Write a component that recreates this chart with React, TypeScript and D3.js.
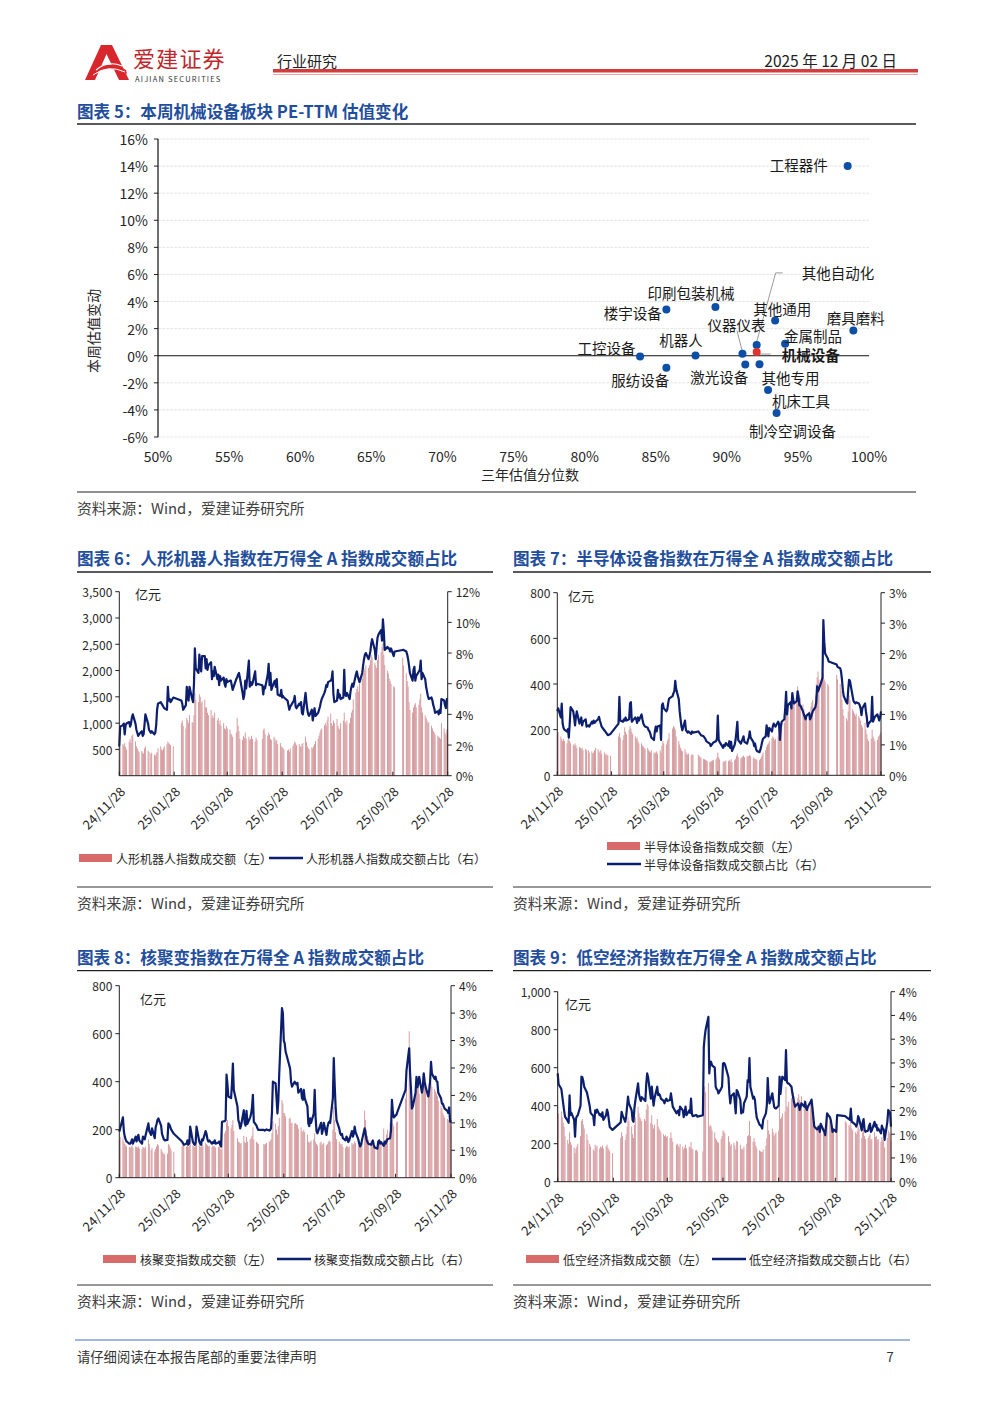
import React from 'react';
import * as d3 from 'd3';

const FONT = '"Noto Sans CJK SC", "Noto Sans", sans-serif';
const BLUE = '#1f4e9d';
const NAVY = '#0c1f6e';
const BAR = '#d39498';
const BAR_KEY = '#d96a6a';
const TEXT = '#262626';

// ---- 图表5 scatter ----
const sectors = ['工程器件', '其他自动化', '仪器仪表', '机械设备', '其他通用', '磨具磨料', '金属制品', '印刷包装机械',
  '楼宇设备', '机器人', '工控设备', '服纺设备', '激光设备', '其他专用', '机床工具', '制冷空调设备'];
const pctRank = [98.5, 92.1, 91.1, 92.1, 93.4, 98.9, 94.1, 89.2, 85.75, 87.8, 83.9, 85.75, 91.3, 92.3, 92.9, 93.5];
const weekChg = [14.0, 0.8, 0.15, 0.27, 2.6, 1.87, 0.89, 3.6, 3.42, 0.02, -0.05, -0.89, -0.64, -0.62, -2.53, -4.23];
const scatterXTicks = [50, 55, 60, 65, 70, 75, 80, 85, 90, 95, 100];
const scatterYTicks = [-6, -4, -2, 0, 2, 4, 6, 8, 10, 12, 14, 16];

// label placement (layout only)
const labelPos: Record<string, { dx: number; dy: number; anchor: string; bold?: boolean; leader?: [number, number][] }> = {
  '工程器件': { dx: -20, dy: -2, anchor: 'end' },
  '其他自动化': { dx: 45, dy: -72, anchor: 'start', leader: [[26, -72], [19, -72], [0, -3]] },
  '仪器仪表': { dx: -6, dy: -29, anchor: 'middle', leader: [[-5.5, -23], [-0.3, -3]] },
  '机械设备': { dx: 25, dy: 2, anchor: 'start', bold: true, leader: [[3, 2], [14, 2]] },
  '其他通用': { dx: 7, dy: -12, anchor: 'middle' },
  '磨具磨料': { dx: 2.5, dy: -12.5, anchor: 'middle' },
  '金属制品': { dx: 28, dy: -8, anchor: 'middle' },
  '印刷包装机械': { dx: -24.5, dy: -14, anchor: 'middle' },
  '楼宇设备': { dx: -4.5, dy: 3, anchor: 'end' },
  '机器人': { dx: -14.5, dy: -15.5, anchor: 'middle' },
  '工控设备': { dx: -4.5, dy: -9, anchor: 'end' },
  '服纺设备': { dx: -26, dy: 12, anchor: 'middle' },
  '激光设备': { dx: -26, dy: 12, anchor: 'middle' },
  '其他专用': { dx: 31, dy: 13.5, anchor: 'middle' },
  '机床工具': { dx: 33, dy: 11, anchor: 'middle' },
  '制冷空调设备': { dx: 16, dy: 17, anchor: 'middle' },
};

// ---- time axis for 图表6-9 ----
const dateTicks = ['24/11/28', '25/01/28', '25/03/28', '25/05/28', '25/07/28', '25/09/28', '25/11/28'];
const holidays = ['2025-01-01', '2025-01-28', '2025-01-29', '2025-01-30', '2025-01-31', '2025-02-03', '2025-02-04',
  '2025-04-04', '2025-05-01', '2025-05-02', '2025-05-05', '2025-06-02',
  '2025-10-01', '2025-10-02', '2025-10-03', '2025-10-06', '2025-10-07', '2025-10-08'];

// 人形机器人 (亿元 / %)
const robotAmt = [
  300, 550,
  600, 580, 620, 550, 500, 650, 700, 620, 760, 780, 650, 560, 520, 480, 450, 470, 440, 420, 520, 560, 480, 450,
  420, 440, 400, 380, 420, 450, 520, 560, 500, 480, 520, 560, 600, 650, 620, 600, 580, 560,
  1000, 1050, 950, 900, 1100, 1050, 1000, 1150, 1020, 1000, 1150, 1580, 1450, 1400, 1550, 1500, 1380, 1420,
  1450, 1300, 1300, 1200, 1150, 1250, 1100, 1150, 1100, 1200, 1050, 1100, 980, 1050, 950, 1000, 900, 880, 950, 900, 880,
  800, 780, 740, 820, 1100, 950, 850, 700, 680, 760, 720, 820, 700, 740, 680, 700, 760, 700, 650, 720, 680,
  700, 870, 900, 800, 760, 820, 780, 700, 680, 740, 700, 650, 680, 600, 620, 560, 540, 520, 500,
  480, 500, 460, 520, 560, 600, 650, 620, 580, 600, 560, 540, 600, 620, 740, 640, 560, 520, 500, 540,
  520, 560, 600, 660, 700, 760, 820, 870, 900, 960, 1000, 950, 1050, 1120, 1180, 1000, 950, 1050, 1000, 1080, 950, 900, 880,
  1000, 1050, 1200, 1020, 980, 1050, 1000, 1100, 1200, 1250, 1450, 1580, 1650, 1700, 1600, 1750, 1850, 1950, 2050, 2000, 2100,
  2050, 2100, 2200, 2300, 2250, 2150, 2100, 2050, 2200, 2300, 2350, 2450, 2520, 2300, 2100, 2000, 1950, 1850, 1800, 1750, 1700, 1680,
  2250, 2100, 1950, 1800, 1700, 1400, 1250, 1200, 1300, 1350, 1380, 1300, 1350, 1450, 1560, 1300, 1200,
  1150, 1100, 1050, 1000, 1020, 950, 900, 850, 820, 780, 760, 740, 720, 700, 1000, 900, 820, 780, 880, 860,
];
const robotPct = [
  1.9, 3.2,
  3.3, 3.4, 2.7, 3.3, 3.4, 3.5, 3.2, 3.4, 3.8, 4.0, 3.4, 3.0, 2.8, 2.6, 2.7, 2.9, 2.6, 2.7, 3.3, 4.0, 3.4, 3.0,
  2.8, 2.9, 2.7, 2.8, 3.3, 4.3, 4.7, 4.8, 4.7, 4.6, 4.5, 4.4, 4.3, 5.8, 4.9, 5.0, 4.8, 5.1,
  4.9, 4.7, 4.3, 4.6, 5.8, 5.1, 4.9, 5.8, 5.0, 4.8, 6.0, 8.3, 7.0, 6.7, 7.9, 7.2, 6.8, 7.8,
  7.8, 7.0, 7.6, 6.9, 7.2, 7.4, 6.3, 6.8, 6.5, 7.1, 6.3, 6.6, 5.9, 6.5, 6.2, 6.4, 6.0, 5.8, 6.3, 6.1, 6.2,
  6.2, 5.9, 5.6, 6.3, 6.4, 6.6, 6.7, 6.4, 5.4, 5.0, 5.3, 6.2, 5.7, 7.5, 5.8, 6.1, 5.9, 6.0, 6.8, 5.9, 6.0,
  5.9, 5.3, 5.8, 5.7, 6.6, 7.3, 5.9, 6.7, 5.6, 6.1, 6.2, 5.8, 6.3, 5.3, 5.2, 5.6, 5.1, 5.2, 5.1,
  4.9, 4.6, 4.3, 4.5, 4.8, 4.9, 5.2, 4.5, 4.4, 4.7, 4.6, 4.8, 4.1, 4.0, 5.4, 4.8, 4.3, 4.0, 3.9, 4.3,
  3.6, 4.0, 4.4, 3.9, 4.1, 4.3, 4.5, 4.8, 5.0, 5.4, 5.6, 5.9, 5.8, 6.1, 6.2, 6.3, 6.8, 5.3, 4.8, 4.9, 5.6, 5.1, 5.3,
  5.0, 5.1, 6.9, 5.3, 5.2, 5.4, 5.0, 5.5, 5.8, 6.0, 5.8, 6.6, 6.8, 6.5, 6.3, 6.1, 6.7, 7.2, 7.6, 7.9, 8.0,
  7.6, 7.8, 8.1, 8.6, 8.9, 8.2, 7.6, 8.4, 9.0, 9.2, 9.5, 8.8, 10.2, 9.4, 8.2, 8.4, 8.3, 8.3, 8.1, 8.3, 7.8, 8.1,
  8.2, 8.2, 8.1, 7.9, 7.6, 7.2, 6.7, 6.2, 6.9, 7.1, 6.2, 6.5, 6.8, 6.9, 7.5, 6.3, 6.7,
  6.3, 5.8, 5.5, 5.2, 5.0, 5.1, 4.9, 4.6, 4.4, 4.1, 4.2, 4.0, 4.3, 4.1, 5.0, 4.9, 4.6, 4.4, 5.0, 5.0,
];

// 半导体设备
const semiAmt = [
  184, 190,
  170, 160, 150, 160, 150, 140, 155, 160, 150, 140, 135, 130, 140, 130, 120, 125, 120, 115, 120, 110, 115, 110,
  110, 100, 105, 95, 100, 110, 120, 115, 105, 100, 110, 95, 100, 90, 95, 85, 90, 85,
  170, 185, 165, 155, 175, 210, 190, 180, 200, 215, 205, 190, 180, 170, 160, 165, 150, 140,
  140, 130, 125, 120, 115, 120, 110, 105, 100, 110, 100, 95, 100, 105, 95, 110, 100, 130, 150, 140, 135,
  150, 160, 185, 205, 215, 210, 200, 170, 150, 135, 120, 110, 105, 115, 100, 95, 90, 95, 88, 92, 90,
  90, 85, 80, 78, 72, 70, 68, 65, 62, 60, 58, 62, 65, 68, 70, 78, 100, 80, 70,
  58, 62, 60, 65, 62, 68, 60, 70, 58, 66, 72, 85, 95, 80, 75, 78, 82, 86, 80, 84,
  82, 85, 90, 84, 78, 74, 72, 70, 68, 66, 72, 80, 90, 100, 110, 125, 135, 140, 150, 160, 170, 165, 155,
  160, 170, 180, 165, 190, 210, 230, 260, 300, 270, 290, 310, 300, 340, 330, 320, 350, 390, 360, 330, 340,
  310, 290, 270, 250, 260, 280, 270, 300, 320, 330, 350, 400, 430, 455, 420, 410, 430, 447, 420, 410, 400, 390,
  440, 420, 400, 370, 330, 290, 260, 250, 240, 280, 350, 330, 290, 280, 270, 260, 270,
  260, 250, 240, 220, 210, 230, 200, 180, 160, 150, 160, 200, 170, 160, 150, 155, 170, 175, 180, 190,
];
const semiPct = [
  1.05, 1.1,
  0.95, 1.18, 0.85, 0.78, 0.75, 0.72, 0.76, 0.62, 0.85, 1.12, 1.05, 0.95, 0.82, 0.96, 1.05, 0.85, 0.90, 0.95, 0.82, 0.88, 0.92, 0.80,
  0.82, 0.80, 0.88, 0.85, 0.90, 0.86, 0.88, 0.92, 0.96, 0.90, 0.85, 0.80, 0.74, 0.72, 0.70, 0.68, 0.66, 0.68,
  0.85, 1.29, 0.90, 0.88, 0.92, 0.90, 0.95, 0.90, 0.92, 1.18, 1.20, 0.88, 0.90, 0.95, 0.92, 0.86, 0.95, 0.90,
  1.00, 0.92, 0.85, 0.82, 0.80, 0.78, 0.74, 0.72, 0.68, 0.62, 0.58, 0.72, 0.80, 0.72, 0.80, 0.82, 0.58, 1.15, 1.18, 1.10, 1.05,
  1.08, 1.18, 1.26, 1.30, 1.35, 1.38, 1.55, 1.42, 1.25, 1.05, 0.92, 0.80, 0.74, 0.90, 0.75, 0.72, 0.70, 0.72, 0.68, 0.72, 0.70,
  0.72, 0.70, 0.68, 0.66, 0.64, 0.62, 0.60, 0.56, 0.55, 0.52, 0.48, 0.50, 0.52, 0.54, 0.56, 0.60, 0.98, 0.58, 0.55,
  0.45, 0.50, 0.48, 0.53, 0.48, 0.56, 0.45, 0.55, 0.40, 0.50, 0.58, 0.72, 0.88, 0.58, 0.52, 0.56, 0.60, 0.64, 0.55, 0.52,
  0.58, 0.62, 0.72, 0.62, 0.55, 0.48, 0.52, 0.44, 0.40, 0.38, 0.42, 0.48, 0.55, 0.60, 0.64, 0.82, 0.72, 0.64, 0.78, 0.72, 0.80, 0.85, 0.82,
  0.80, 0.88, 0.85, 0.58, 0.78, 0.88, 0.92, 1.10, 1.37, 1.00, 1.15, 1.20, 1.10, 1.35, 1.25, 1.18, 1.22, 1.38, 1.30, 1.15, 1.15,
  1.05, 1.00, 0.96, 0.92, 0.98, 1.02, 0.92, 0.95, 1.00, 1.05, 1.12, 1.20, 1.46, 1.38, 1.42, 1.55, 1.60, 2.55, 2.20, 2.00, 1.92, 1.87,
  1.82, 1.78, 1.76, 1.70, 1.57, 1.40, 1.30, 1.20, 1.18, 1.40, 1.57, 1.55, 1.30, 1.22, 1.20, 1.18, 1.20,
  1.18, 1.15, 1.10, 0.99, 1.10, 1.18, 1.05, 0.95, 0.80, 0.85, 0.90, 1.29, 0.88, 0.92, 0.96, 1.00, 0.95, 0.90, 0.95, 1.05,
];

// 核聚变
const fusionAmt = [
  157, 170,
  165, 150, 140, 135, 130, 128, 125, 130, 135, 125, 130, 128, 125, 130, 122, 118, 128, 125, 122, 130, 160, 140,
  115, 125, 110, 120, 130, 140, 135, 120, 110, 105, 100, 98, 100, 140, 135, 125, 115, 108,
  130, 135, 140, 130, 138, 128, 132, 160, 135, 130, 128, 135, 165, 138, 130, 128, 140, 135,
  145, 140, 135, 130, 132, 128, 135, 130, 132, 125, 128, 130, 122, 115, 180, 185, 195, 230, 240, 215, 205,
  220, 240, 195, 165, 150, 148, 140, 145, 175, 150, 145, 170, 150, 160, 165, 175, 210, 160, 150, 145, 140,
  140, 138, 142, 145, 150, 155, 160, 185, 235, 225, 200, 180, 215, 250, 324, 310, 270, 268, 255,
  245, 250, 225, 230, 225, 228, 222, 220, 205, 210, 195, 190, 200, 190, 180, 150, 145, 150, 155, 160,
  185, 150, 140, 135, 145, 150, 135, 140, 145, 135, 140, 150, 155, 150, 200, 296, 240, 190, 160, 150, 142, 138, 140,
  128, 125, 132, 130, 125, 130, 145, 138, 140, 152, 145, 135, 130, 128, 135, 150, 280, 240, 200, 175, 160,
  155, 150, 145, 140, 135, 132, 140, 138, 145, 140, 205, 150, 160, 180, 200, 230, 220, 240, 225, 215, 230, 235,
  330, 390, 610, 420, 350, 280, 290, 400, 370, 380, 420, 350, 380, 430, 400, 420, 380,
  360, 390, 410, 395, 380, 370, 360, 350, 340, 320, 300, 290, 270, 260, 250, 245, 240, 235, 230, 215,
];
const fusionPct = [
  0.84, 0.90,
  1.10, 0.85, 0.75, 0.70, 0.66, 0.62, 0.62, 0.65, 0.70, 0.62, 0.75, 0.66, 0.72, 0.78, 0.68, 0.62, 0.75, 0.72, 0.70, 0.78, 0.99, 0.85,
  0.78, 0.90, 0.72, 0.92, 0.98, 1.05, 1.08, 0.95, 0.80, 0.75, 0.70, 0.68, 0.69, 0.99, 0.97, 0.93, 0.88, 0.80,
  0.66, 0.63, 0.60, 0.62, 0.68, 0.60, 0.63, 0.93, 0.65, 0.62, 0.60, 0.64, 0.93, 0.66, 0.62, 0.60, 0.70, 0.68,
  0.85, 0.80, 0.70, 0.66, 0.68, 0.62, 0.65, 0.63, 0.68, 0.62, 0.64, 0.66, 0.60, 0.57, 1.02, 1.03, 1.05, 1.88, 1.70, 1.48, 1.45,
  1.72, 2.08, 1.60, 1.30, 1.05, 1.00, 0.90, 0.95, 1.23, 1.00, 0.95, 1.22, 0.98, 1.10, 1.16, 1.28, 1.51, 1.02, 0.95, 0.90, 0.87,
  0.87, 0.86, 0.87, 0.88, 0.86, 0.87, 0.90, 1.20, 1.75, 1.72, 1.45, 1.17, 1.40, 1.90, 3.09, 3.00, 2.50, 2.45, 2.30,
  2.05, 1.98, 1.75, 1.66, 1.75, 1.72, 1.70, 1.73, 1.55, 1.62, 1.45, 1.42, 1.60, 1.45, 1.30, 0.99, 0.94, 1.08, 1.00, 1.17,
  1.60, 1.10, 0.85, 0.81, 0.95, 1.00, 0.80, 0.87, 1.00, 0.78, 0.92, 0.99, 1.02, 1.00, 1.45, 2.18, 1.70, 1.30, 1.05, 0.90, 0.81, 0.78, 0.80,
  0.72, 0.68, 0.75, 0.72, 0.65, 0.68, 0.85, 0.75, 0.80, 0.93, 0.83, 0.70, 0.62, 0.57, 0.60, 0.68, 0.90, 0.80, 0.70, 0.65, 0.62,
  0.60, 0.64, 0.68, 0.60, 0.55, 0.53, 0.66, 0.68, 0.62, 0.65, 0.58, 0.66, 0.62, 0.66, 0.70, 0.72, 0.87, 1.42, 1.20, 1.10, 1.15, 1.20,
  1.60, 1.95, 2.36, 1.90, 1.60, 1.26, 1.30, 1.55, 1.84, 1.65, 1.72, 1.84, 1.55, 1.65, 1.90, 1.75, 1.66,
  1.48, 1.60, 1.75, 2.11, 1.90, 1.80, 1.84, 1.76, 1.75, 1.55, 1.45, 1.35, 1.35, 1.30, 1.26, 1.22, 1.18, 1.28, 1.02, 1.05,
];

// 低空经济
const lowAltAmt = [
  395, 360,
  370, 340, 310, 290, 240, 220, 200, 260, 210, 195, 180, 150, 175, 185, 200, 240, 320, 330, 300, 280, 250, 220,
  200, 185, 170, 160, 195, 180, 190, 175, 185, 180, 190, 175, 185, 195, 180, 170, 160, 150,
  230, 260, 240, 220, 250, 290, 340, 320, 290, 250, 230, 300, 340, 395, 360, 340, 330, 320,
  330, 320, 380, 410, 400, 310, 350, 300, 280, 300, 330, 290, 280, 270, 260, 250, 240, 245, 235, 240, 230,
  260, 230, 210, 195, 200, 190, 180, 200, 185, 170, 180, 195, 175, 185, 180, 210, 175, 170, 165, 168, 160,
  160, 480, 500, 470, 520, 290, 300, 290, 270, 260, 230, 220, 210, 205, 225, 240, 270, 265, 255,
  240, 210, 190, 200, 205, 190, 170, 215, 210, 195, 170, 175, 170, 185, 200, 240, 245, 320, 240, 210,
  230, 210, 190, 175, 165, 160, 158, 155, 170, 190, 230, 325, 270, 250, 280, 260, 240, 250, 260, 270, 395, 330, 340,
  360, 370, 500, 400, 390, 420, 440, 430, 470, 450, 420, 440, 460, 430, 420, 450, 430, 400, 410, 390, 380,
  430, 420, 380, 330, 300, 290, 295, 300, 280, 310, 285, 280, 270, 300, 340, 320, 310, 295, 280, 270, 265, 320,
  320, 310, 300, 290, 340, 280, 270, 260, 250, 265, 290, 280, 230, 260, 275, 240, 225,
  230, 240, 250, 220, 225, 260, 235, 240, 220, 225, 210, 235, 220, 215, 180, 230, 270, 260, 250, 215,
];
const lowAltPct = [
  2.28, 2.05,
  1.95, 1.80, 1.65, 1.50, 1.37, 1.28, 1.24, 1.82, 1.40, 1.45, 1.30, 0.95, 1.33, 1.38, 1.40, 1.60, 2.21, 2.20, 2.12, 2.00, 1.88, 1.79,
  1.60, 1.45, 1.38, 1.19, 1.50, 1.45, 1.52, 1.40, 1.42, 1.37, 1.46, 1.30, 1.40, 1.52, 1.45, 1.30, 1.15, 1.09,
  1.25, 1.47, 1.40, 1.26, 1.38, 1.58, 1.79, 1.65, 1.50, 1.30, 1.26, 1.55, 1.70, 2.07, 1.85, 1.75, 1.70, 1.78,
  1.72, 1.70, 2.07, 2.28, 2.20, 1.75, 2.00, 1.80, 1.60, 1.75, 2.00, 1.82, 1.85, 1.82, 1.75, 1.70, 1.65, 1.72, 1.75, 1.70, 1.72,
  1.86, 1.72, 1.58, 1.44, 1.48, 1.50, 1.40, 1.58, 1.50, 1.36, 1.45, 1.58, 1.40, 1.50, 1.45, 1.75, 1.42, 1.38, 1.40, 1.40, 1.37,
  1.40, 2.84, 3.05, 3.20, 3.47, 2.28, 2.53, 2.52, 2.45, 2.40, 2.00, 1.95, 1.93, 1.86, 1.96, 2.00, 2.49, 2.50, 2.48,
  2.20, 1.86, 1.65, 1.80, 1.86, 1.65, 1.44, 1.93, 1.90, 1.72, 1.44, 1.50, 1.46, 1.65, 1.79, 2.14, 2.10, 2.60, 2.00, 1.75,
  1.79, 1.72, 1.50, 1.35, 1.20, 1.19, 1.16, 1.12, 1.30, 1.44, 1.60, 2.18, 1.80, 1.65, 1.86, 1.72, 1.58, 1.55, 1.54, 1.60, 2.21, 1.85, 2.05,
  2.21, 2.14, 2.77, 2.10, 2.07, 2.07, 2.00, 1.86, 1.75, 1.65, 1.58, 1.65, 1.61, 1.51, 1.58, 1.65, 1.58, 1.68, 1.55, 1.51, 1.58,
  1.68, 1.73, 1.55, 1.35, 1.16, 1.10, 1.12, 1.16, 1.05, 1.22, 1.08, 1.05, 0.98, 1.20, 1.44, 1.36, 1.30, 1.18, 1.05, 1.10, 1.05, 1.40,
  1.38, 1.36, 1.32, 1.30, 1.54, 1.26, 1.25, 1.20, 1.16, 1.22, 1.38, 1.33, 1.08, 1.25, 1.32, 1.10, 1.05,
  1.08, 1.18, 1.22, 1.05, 1.08, 1.26, 1.16, 1.20, 1.08, 1.12, 1.02, 1.18, 1.12, 1.10, 0.88, 1.26, 1.51, 1.48, 1.45, 1.16,
];

// ---- trading calendar ----
const holidaySet = new Set(holidays);
const fmtDay = d3.timeFormat('%Y-%m-%d');
const tradingDays = d3.timeDay
  .range(new Date(2024, 10, 28), new Date(2025, 10, 29))
  .filter(d => d.getDay() !== 0 && d.getDay() !== 6 && !holidaySet.has(fmtDay(d)));
const parseTick = d3.timeParse('%y/%m/%d');
const tickDates = dateTicks.map(t => parseTick(t) as Date);

type LegendItem = { kind: 'bar' | 'line'; x: number; y: number; text: string };

interface DualProps {
  title: string;
  panel: [number, number];
  titleY: number;
  ruleY: number;
  sourceY: number;
  plot: { x0: number; x1: number; top: number; bottom: number };
  amt: number[];
  pct: number[];
  leftMax: number;
  leftTicks: number[];
  rightMax: number;
  rightTicks: number[];
  unit: [number, number];
  legend: LegendItem[];
}

const DualChart: React.FC<DualProps> = ({
  title, panel, titleY, ruleY, sourceY, plot, amt, pct, leftMax, leftTicks, rightMax, rightTicks, unit, legend,
}) => {
  const x = d3.scaleTime().domain([tickDates[0], tickDates[tickDates.length - 1]]).range([plot.x0, plot.x1]);
  const yL = d3.scaleLinear().domain([0, leftMax]).range([plot.bottom, plot.top]);
  const yR = d3.scaleLinear().domain([0, rightMax]).range([plot.bottom, plot.top]);
  const n = Math.min(tradingDays.length, amt.length, pct.length);
  const rows = d3.range(n).map(i => ({ d: tradingDays[i], a: amt[i], p: pct[i] }));
  const line = d3.line<{ d: Date; p: number }>().x(r => x(r.d)).y(r => yR(r.p));
  const bw = 0.9;
  const fmtL = d3.format(',');

  return (
    <g fontFamily={FONT}>
      <text x={panel[0]} y={titleY} fontSize={16.6} fontWeight={700} fill={BLUE} dominantBaseline="central">{title}</text>
      <line x1={panel[0]} x2={panel[1]} y1={titleY + 14} y2={titleY + 14} stroke="#222" strokeWidth={1.3} />

      {rows.map((r, i) => (
        <rect key={i} x={x(r.d) - bw / 2} y={yL(r.a)} width={bw} height={plot.bottom - yL(r.a)} fill={BAR} />
      ))}
      <path d={line(rows) || ''} fill="none" stroke={NAVY} strokeWidth={2.2} strokeLinejoin="round" />

      {/* axes */}
      <line x1={plot.x0} x2={plot.x0} y1={plot.top} y2={plot.bottom} stroke="#222" />
      <line x1={plot.x1} x2={plot.x1} y1={plot.top} y2={plot.bottom} stroke="#222" />
      <line x1={plot.x0} x2={plot.x1} y1={plot.bottom} y2={plot.bottom} stroke="#222" />
      {leftTicks.map(v => (
        <g key={'l' + v}>
          <line x1={plot.x0 - 4} x2={plot.x0} y1={yL(v)} y2={yL(v)} stroke="#222" />
          <text x={plot.x0 - 7} y={yL(v)} fontSize={12} fill={TEXT} textAnchor="end" dominantBaseline="central">{fmtL(v)}</text>
        </g>
      ))}
      {rightTicks.map(v => (
        <g key={'r' + v}>
          <line x1={plot.x1} x2={plot.x1 + 4} y1={yR(v)} y2={yR(v)} stroke="#222" />
          <text x={plot.x1 + 8} y={yR(v)} fontSize={12} fill={TEXT} dominantBaseline="central">{Math.round(v) + '%'}</text>
        </g>
      ))}
      {tickDates.map((d, i) => (
        <g key={'t' + i}>
          <line x1={x(d)} x2={x(d)} y1={plot.bottom} y2={plot.bottom - 4} stroke="#222" />
          <text transform={`translate(${x(d) + 3},${plot.bottom + 13}) rotate(-45)`} fontSize={13} fill={TEXT}
            textAnchor="end" dominantBaseline="central">{dateTicks[i]}</text>
        </g>
      ))}
      <text x={unit[0]} y={unit[1]} fontSize={13} fill={TEXT} dominantBaseline="central">亿元</text>

      {legend.map((it, i) => (
        <g key={'lg' + i}>
          {it.kind === 'bar'
            ? <rect x={it.x} y={it.y - 4} width={33} height={8} fill={BAR_KEY} />
            : <line x1={it.x} x2={it.x + 34} y1={it.y} y2={it.y} stroke={NAVY} strokeWidth={2.5} />}
          <text x={it.x + 37} y={it.y} fontSize={12} fill={TEXT} dominantBaseline="central">{it.text}</text>
        </g>
      ))}

      <line x1={panel[0]} x2={panel[1]} y1={ruleY} y2={ruleY} stroke="#333" strokeWidth={1} />
      <text x={panel[0]} y={sourceY} fontSize={14.8} fill="#404040" dominantBaseline="central">资料来源：Wind，爱建证券研究所</text>
    </g>
  );
};

const Scatter: React.FC = () => {
  const x = d3.scaleLinear().domain([50, 100]).range([158, 869]);
  const y = d3.scaleLinear().domain([-6, 16]).range([437, 139]);
  return (
    <g fontFamily={FONT}>
      <text x={77} y={111} fontSize={16.6} fontWeight={700} fill={BLUE} dominantBaseline="central">图表 5：本周机械设备板块 PE-TTM 估值变化</text>
      <line x1={77} x2={916} y1={124} y2={124} stroke="#222" strokeWidth={1.3} />
      {scatterYTicks.map(v => (
        <g key={v}>
          {v !== 0 && <line x1={158} x2={869} y1={y(v)} y2={y(v)} stroke="#e6e6e6" strokeDasharray="3,1" />}
          <line x1={154} x2={158} y1={y(v)} y2={y(v)} stroke="#222" />
          <text x={148} y={y(v)} fontSize={14} fill={TEXT} textAnchor="end" dominantBaseline="central">{v + '%'}</text>
        </g>
      ))}
      <line x1={158} x2={869} y1={y(0)} y2={y(0)} stroke="#111" strokeWidth={1.2} />
      <line x1={158} x2={158} y1={139} y2={437} stroke="#111" strokeWidth={1.2} />
      {scatterXTicks.map(v => (
        <text key={v} x={x(v)} y={456} fontSize={14} fill={TEXT} textAnchor="middle" dominantBaseline="central">{v + '%'}</text>
      ))}
      <text x={530} y={473.5} fontSize={14} fill={TEXT} textAnchor="middle" dominantBaseline="central">三年估值分位数</text>
      <text transform="translate(93,331) rotate(-90)" fontSize={14} fill={TEXT} textAnchor="middle" dominantBaseline="central">本周估值变动</text>

      {sectors.map((s, i) => {
        const px = x(pctRank[i]);
        const py = y(weekChg[i]);
        const lp = labelPos[s];
        return (
          <g key={s}>
            {lp.leader && (
              <polyline points={lp.leader.map(([a, b]) => `${px + a},${py + b}`).join(' ')} fill="none" stroke="#9a9a9a" strokeWidth={1} />
            )}
            <circle cx={px} cy={py} r={4} fill={s === '机械设备' ? '#e0322f' : '#0d4ea6'} />
            <text x={px + lp.dx} y={py + lp.dy} fontSize={14.5} fill="#1a1a1a" fontWeight={lp.bold ? 700 : 400}
              textAnchor={lp.anchor} dominantBaseline="central">{s}</text>
          </g>
        );
      })}
      <line x1={77} x2={916} y1={492} y2={492} stroke="#222" strokeWidth={1.2} />
      <text x={77} y={507} fontSize={14.8} fill="#404040" dominantBaseline="central">资料来源：Wind，爱建证券研究所</text>
    </g>
  );
};

const Header: React.FC = () => (
  <g fontFamily={FONT}>
    <path d="M85,80 L101,45 L112,45 L129,80 L119,80 L106.5,54 L95,80 Z" fill="#d8262d" />
    <path d="M90,72 Q106,58 126,70 L127,74 Q106,63 92,76 Z" fill="#d8262d" />
    <path d="M96,70 Q108,60 122,66" fill="none" stroke="#fff" strokeWidth={1.2} />
    <path d="M93,75 Q108,64 125,72" fill="none" stroke="#fff" strokeWidth={1} />
    <text x={133} y={56.5} fontSize={22} fill="#c0272d" dominantBaseline="central" letterSpacing={1.2}>爱建证券</text>
    <text x={135} y={78} fontSize={7.5} fill="#333" dominantBaseline="central" letterSpacing={1.2}>AIJIAN SECURITIES</text>
    <text x={277} y={60} fontSize={15} fill="#222" dominantBaseline="central">行业研究</text>
    <text x={897} y={60} fontSize={15.5} fill="#222" textAnchor="end" dominantBaseline="central">2025 年 12 月 02 日</text>
    <rect x={273} y={69} width={645} height={3.5} fill="#d43d3d" />
    <line x1={273} x2={918} y1={74.5} y2={74.5} stroke="#eba8a8" strokeWidth={1} />
  </g>
);

const Footer: React.FC = () => (
  <g fontFamily={FONT}>
    <line x1={75} x2={910} y1={1340} y2={1340} stroke="#7f9fd0" strokeWidth={1.5} />
    <text x={77} y={1356} fontSize={13.3} fill="#333" dominantBaseline="central">请仔细阅读在本报告尾部的重要法律声明</text>
    <text x={890} y={1356} fontSize={13} fill="#333" textAnchor="middle" dominantBaseline="central">7</text>
  </g>
);

export default function App() {
  return (
    <div style={{ position: 'absolute', left: 0, top: 0, width: 1000, height: 1414, background: '#fff' }}>
      <svg width={1000} height={1414} viewBox="0 0 1000 1414">
        <rect width={1000} height={1414} fill="#fff" />
        <Header />
        <Scatter />
        <DualChart
          title="图表 6：人形机器人指数在万得全 A 指数成交额占比"
          panel={[77, 493]} titleY={558} ruleY={887} sourceY={902}
          plot={{ x0: 119.3, x1: 447.7, top: 591.7, bottom: 775.7 }}
          amt={robotAmt} pct={robotPct}
          leftMax={3500} leftTicks={[500, 1000, 1500, 2000, 2500, 3000, 3500]}
          rightMax={12} rightTicks={[0, 2, 4, 6, 8, 10, 12]}
          unit={[135, 593]}
          legend={[
            { kind: 'bar', x: 79, y: 858, text: '人形机器人指数成交额（左）' },
            { kind: 'line', x: 269, y: 858, text: '人形机器人指数成交额占比（右）' },
          ]}
        />
        <DualChart
          title="图表 7：半导体设备指数在万得全 A 指数成交额占比"
          panel={[513, 931]} titleY={558} ruleY={887} sourceY={902}
          plot={{ x0: 557.3, x1: 881, top: 592.7, bottom: 775.3 }}
          amt={semiAmt} pct={semiPct}
          leftMax={800} leftTicks={[0, 200, 400, 600, 800]}
          rightMax={3} rightTicks={[0, 0.5, 1, 1.5, 2, 2.5, 3]}
          unit={[568, 595]}
          legend={[
            { kind: 'bar', x: 607, y: 846, text: '半导体设备指数成交额（左）' },
            { kind: 'line', x: 607, y: 864, text: '半导体设备指数成交额占比（右）' },
          ]}
        />
        <DualChart
          title="图表 8：核聚变指数在万得全 A 指数成交额占比"
          panel={[77, 493]} titleY={956.7} ruleY={1285} sourceY={1300}
          plot={{ x0: 119.3, x1: 451, top: 985.7, bottom: 1177.7 }}
          amt={fusionAmt} pct={fusionPct}
          leftMax={800} leftTicks={[0, 200, 400, 600, 800]}
          rightMax={3.5} rightTicks={[0, 0.5, 1, 1.5, 2, 2.5, 3, 3.5]}
          unit={[140, 998]}
          legend={[
            { kind: 'bar', x: 103, y: 1259, text: '核聚变指数成交额（左）' },
            { kind: 'line', x: 277, y: 1259, text: '核聚变指数成交额占比（右）' },
          ]}
        />
        <DualChart
          title="图表 9：低空经济指数在万得全 A 指数成交额占比"
          panel={[513, 931]} titleY={956.7} ruleY={1285} sourceY={1300}
          plot={{ x0: 557.7, x1: 891, top: 991.7, bottom: 1181.7 }}
          amt={lowAltAmt} pct={lowAltPct}
          leftMax={1000} leftTicks={[0, 200, 400, 600, 800, 1000]}
          rightMax={4} rightTicks={[0, 0.5, 1, 1.5, 2, 2.5, 3, 3.5, 4]}
          unit={[565, 1003]}
          legend={[
            { kind: 'bar', x: 526, y: 1259, text: '低空经济指数成交额（左）' },
            { kind: 'line', x: 712, y: 1259, text: '低空经济指数成交额占比（右）' },
          ]}
        />
        <Footer />
      </svg>
    </div>
  );
}
